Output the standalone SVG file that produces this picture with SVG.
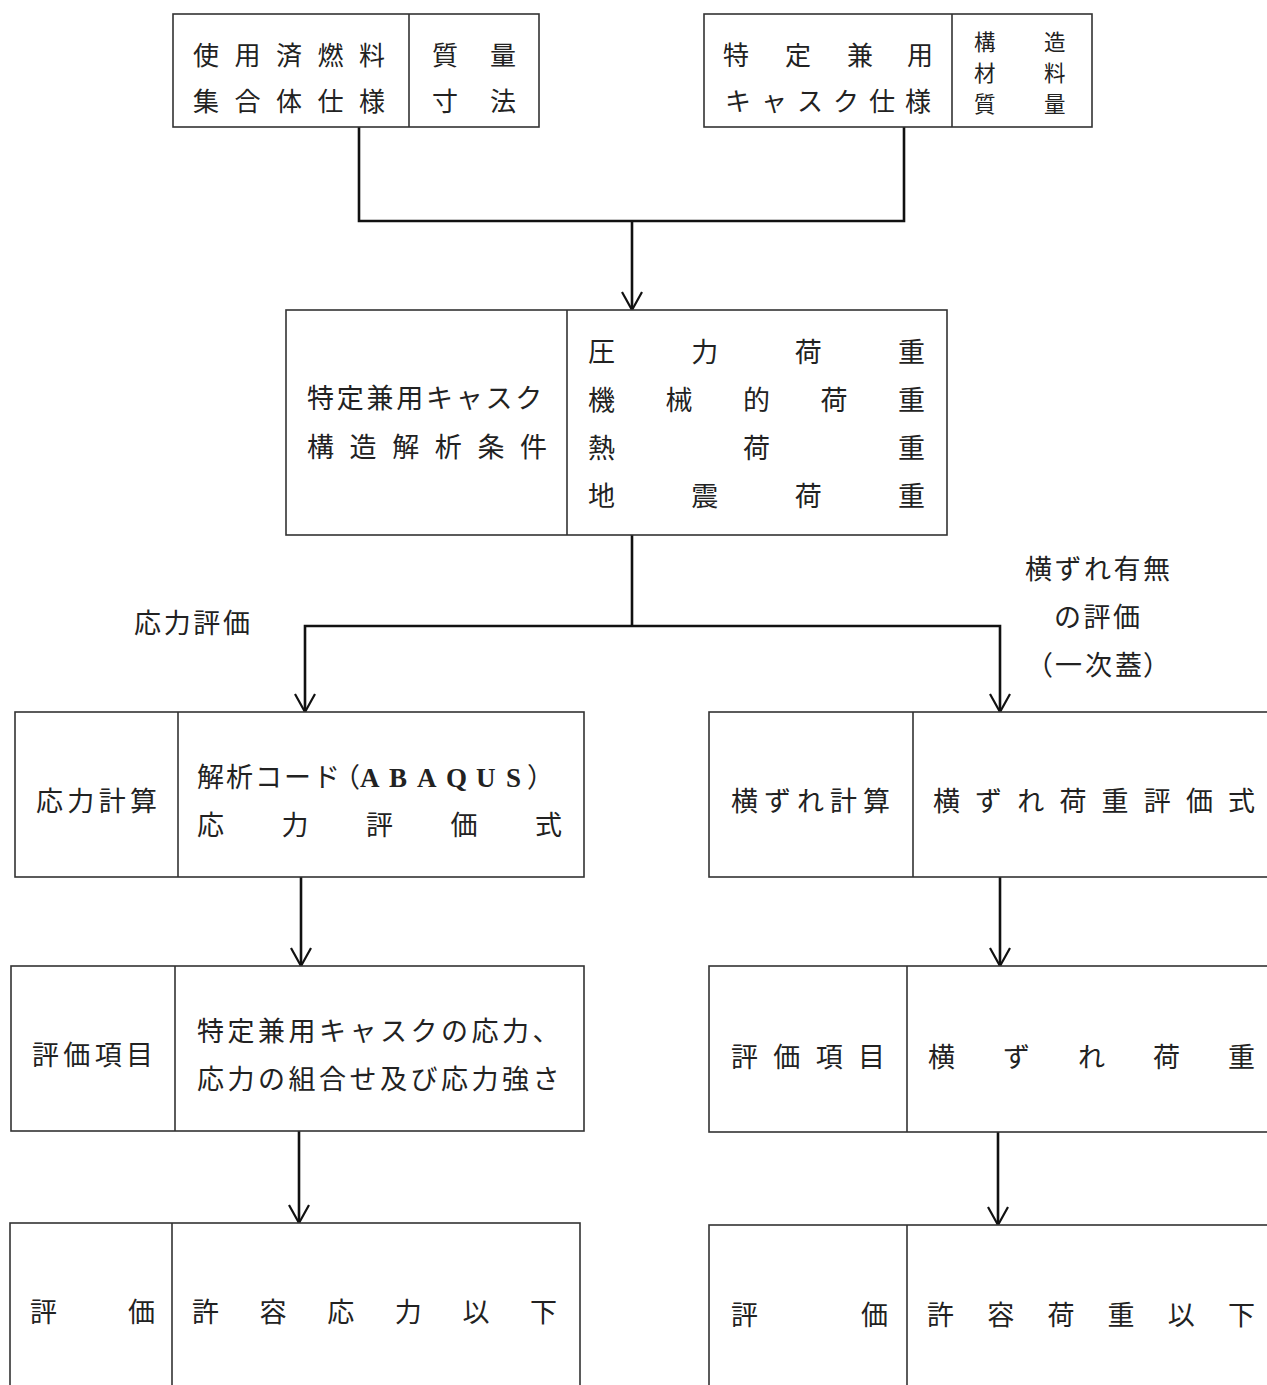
<svg xmlns="http://www.w3.org/2000/svg" width="1267" height="1385" viewBox="0 0 1267 1385">
<style>
.bx{fill:#fff;stroke:#333;stroke-width:1.6}
.dv{stroke:#333;stroke-width:1.6}
.cn{fill:none;stroke:#111;stroke-width:2.6}
.t{font-family:"Noto Sans CJK JP","Noto Sans CJK SC",sans-serif;font-size:27px;fill:#222}
.s{font-size:26px}
.m{font-size:21.5px}
.lat{font-family:"Liberation Serif",serif;font-size:27px;font-weight:bold}
</style>
<defs>
<marker id="arr" viewBox="-20 -12 24 24" markerWidth="24" markerHeight="24" refX="0" refY="0" orient="auto" markerUnits="userSpaceOnUse">
<path d="M-18,-10 L0,0 L-18,10" fill="none" stroke="#111" stroke-width="2.2"/>
</marker>
</defs>
<rect width="1267" height="1385" fill="#fff"/>

<g id="connectors">
<path class="cn" d="M359,127 V221 H904 V127"/>
<path class="cn" d="M632,221 V310" marker-end="url(#arr)"/>
<path class="cn" d="M632,535 V626"/>
<path class="cn" d="M632,626 H305 V712" marker-end="url(#arr)"/>
<path class="cn" d="M632,626 H1000 V712" marker-end="url(#arr)"/>
<path class="cn" d="M301,877 V966" marker-end="url(#arr)"/>
<path class="cn" d="M1000,877 V966" marker-end="url(#arr)"/>
<path class="cn" d="M299,1131 V1223" marker-end="url(#arr)"/>
<path class="cn" d="M998,1132 V1225" marker-end="url(#arr)"/>
</g>

<g id="n-fuel">
<rect class="bx" x="173" y="14" width="366" height="113"/>
<line class="dv" x1="409" y1="14" x2="409" y2="127"/>
<text class="t s" x="193 234.5 276 317.5 359" y="65">使用済燃料</text>
<text class="t s" x="193 234.5 276 317.5 359" y="111">集合体仕様</text>
<text class="t s" x="432 490" y="65">質量</text>
<text class="t s" x="432 490" y="111">寸法</text>
</g>

<g id="n-cask">
<rect class="bx" x="704" y="14" width="388" height="113"/>
<line class="dv" x1="952" y1="14" x2="952" y2="127"/>
<text class="t s" x="723 785 847 907" y="65">特定兼用</text>
<text class="t s" x="725 761 797 833 869 905" y="111">キャスク仕様</text>
<text class="t m" x="974 1044" y="50">構造</text>
<text class="t m" x="974 1044" y="81">材料</text>
<text class="t m" x="974 1044" y="112">質量</text>
</g>

<g id="n-cond">
<rect class="bx" x="286" y="310" width="661" height="225"/>
<line class="dv" x1="567" y1="310" x2="567" y2="535"/>
<text class="t" x="307 336.75 366.5 396.25 426 455.75 485.5 515.25" y="408">特定兼用キャスク</text>
<text class="t" x="307 349.6 392.2 434.8 477.4 520" y="457">構造解析条件</text>
<text class="t" x="588 691.3 794.7 898" y="362">圧力荷重</text>
<text class="t" x="588 665.5 743 820.5 898" y="410">機械的荷重</text>
<text class="t" x="588 743 898" y="458">熱荷重</text>
<text class="t" x="588 691.3 794.7 898" y="506">地震荷重</text>
</g>

<g id="labels">
<text class="t" x="134 163.7 193.3 223" y="633">応力評価</text>
<text class="t" x="1025 1054.5 1084 1113.5 1143" y="579">横ずれ有無</text>
<text class="t" x="1054 1083.5 1113" y="627">の評価</text>
<text class="t" x="1026 1055 1085 1115 1143" y="675">（一次蓋）</text>
</g>

<g id="n-stress-calc">
<rect class="bx" x="15" y="712" width="569" height="165"/>
<line class="dv" x1="178" y1="712" x2="178" y2="877"/>
<text class="t" x="36 67.3 98.7 130" y="811">応力計算</text>
<text class="t" y="787"><tspan x="197 226 255 284 313 333">解析コード（</tspan><tspan class="lat" x="360 389 417 446 476 506">ABAQUS</tspan><tspan x="527">）</tspan></text>
<text class="t" x="197 281.5 366 450.5 535" y="835">応力評価式</text>
</g>

<g id="n-shift-calc">
<rect class="bx" x="709" y="712" width="600" height="165"/>
<line class="dv" x1="913" y1="712" x2="913" y2="877"/>
<text class="t" x="731 764 797 830 863" y="811">横ずれ計算</text>
<text class="t" x="933 975.1 1017.3 1059.4 1101.6 1143.7 1185.9 1228" y="811">横ずれ荷重評価式</text>
</g>

<g id="n-stress-item">
<rect class="bx" x="11" y="966" width="573" height="165"/>
<line class="dv" x1="175" y1="966" x2="175" y2="1131"/>
<text class="t" x="32 63.3 94.7 126" y="1065">評価項目</text>
<text class="t" x="197 227.5 258 288.5 319 349.5 380 410.5 441 471.5 502 532.5" y="1041">特定兼用キャスクの応力、</text>
<text class="t" x="197 227.5 258 288.5 319 349.5 380 410.5 441 471.5 502 532.5" y="1089">応力の組合せ及び応力強さ</text>
</g>

<g id="n-shift-item">
<rect class="bx" x="709" y="966" width="600" height="166"/>
<line class="dv" x1="907" y1="966" x2="907" y2="1132"/>
<text class="t" x="731 773.3 815.7 858" y="1067">評価項目</text>
<text class="t" x="928 1003 1078 1153 1228" y="1067">横ずれ荷重</text>
</g>

<g id="n-stress-eval">
<rect class="bx" x="10" y="1223" width="570" height="200"/>
<line class="dv" x1="172" y1="1223" x2="172" y2="1400"/>
<text class="t" x="30 128" y="1322">評価</text>
<text class="t" x="192 259.6 327.2 394.8 462.4 530" y="1322">許容応力以下</text>
</g>

<g id="n-shift-eval">
<rect class="bx" x="709" y="1225" width="600" height="200"/>
<line class="dv" x1="907" y1="1225" x2="907" y2="1400"/>
<text class="t" x="731 861" y="1325">評価</text>
<text class="t" x="927 987.2 1047.4 1107.6 1167.8 1228" y="1325">許容荷重以下</text>
</g>
</svg>
